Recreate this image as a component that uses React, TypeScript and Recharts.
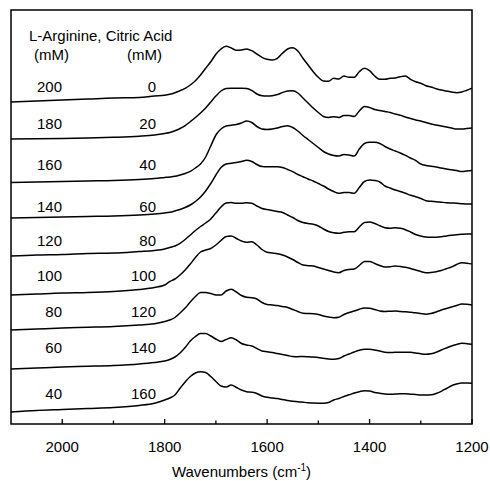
import React from 'react';
import { LineChart, Line, XAxis, YAxis, Label, ReferenceArea } from 'recharts';

const FONT = '"Liberation Sans", Arial, Helvetica, sans-serif';
const W = 490;
const H = 481;

// Wavenumbers (cm-1) at which the spectra were read
const wavenumbers = [
  2100, 2050, 2000, 1950, 1900, 1850, 1820,
  1800, 1790, 1780, 1770, 1760, 1750, 1740, 1730, 1720, 1710, 1700,
  1690, 1680, 1670, 1660, 1650, 1640, 1630, 1620, 1610, 1600,
  1590, 1580, 1570, 1560, 1550, 1540, 1530, 1520, 1510, 1500,
  1490, 1480, 1470, 1460, 1450, 1440, 1430, 1420, 1410, 1400,
  1390, 1380, 1370, 1360, 1350, 1340, 1330, 1320, 1310, 1300,
  1290, 1280, 1270, 1260, 1250, 1240, 1230, 1220, 1210, 1200,
];

// Offset absorbance (a.u.), top spectrum first
const argCit200_0 = [
  322, 323, 324, 325, 326, 326.5, 328,
  328.7, 329.7, 331.3, 333.3, 335.7, 339, 343.3, 349, 355.7, 362.3, 369.7,
  375, 377.7, 376, 373.7, 374, 375, 373.3, 370, 366.7, 364.7,
  364, 365.7, 370.7, 375, 376.3, 373, 365.7, 359, 352.3, 346.7,
  343, 342.7, 345.7, 345, 348, 346.7, 346.7, 352.3, 355.7, 353.3,
  348, 344.7, 344.7, 345.7, 346, 347.3, 348, 344.7, 342.3, 340.7,
  338.3, 337, 335.3, 334, 333, 332, 331.3, 332, 333.7, 335.7,
];
const argCit180_20 = [
  285, 285.2, 285.5, 286, 286.7, 287.8, 289,
  290.5, 291.5, 293.2, 295.5, 298.5, 302.3, 306.5, 311, 316, 322, 328,
  333, 335.5, 335.7, 335.7, 335.7, 335.5, 333.5, 330, 328.3, 328,
  328.3, 329.5, 331.5, 333, 333.3, 331, 326, 321, 316, 311.5,
  307.5, 306.5, 307.3, 306.5, 308.5, 308.5, 307.5, 313, 317.5, 316.5,
  314.5, 313.5, 312.5, 311.5, 310, 308.7, 307, 305.5, 304, 303,
  301.5, 300, 299, 298, 297, 296, 295, 295, 295.5, 296,
];
const argCit160_40 = [
  241.5, 242, 242.5, 243, 243.5, 244.5, 245.5,
  246.5, 247, 247.7, 249, 250.5, 252.7, 256, 260, 267, 278, 289,
  295, 298, 298.7, 299.5, 301, 303, 301.5, 297.5, 295, 294.5,
  295, 296, 297.5, 298.3, 296.5, 293, 288.5, 284.5, 280.5, 276.5,
  272.5, 270, 268.5, 268, 269.5, 269, 268, 275, 280.5, 281.7,
  281.7, 280.5, 277.5, 275, 273, 271, 268.7, 266, 263.5, 260,
  258.5, 257.7, 257, 256, 255, 254.3, 253.5, 252.5, 253, 253.5,
];
const argCit140_60 = [
  206, 206.5, 207, 207.5, 208, 209, 210,
  211, 211.7, 213, 214.5, 216.5, 219, 222.5, 227, 233, 240.5, 249,
  256.5, 260, 260.7, 261.5, 262.5, 263.7, 262.5, 259.5, 257.5, 257.3,
  257.3, 257.3, 256.5, 254.5, 252.3, 249.5, 247.3, 245, 243, 240.5,
  238, 235, 232.5, 230.7, 231.5, 231.5, 230.7, 236.5, 242.5, 244,
  243.5, 242, 238, 236, 234, 232.5, 230.7, 228.7, 227.3, 225.5,
  223.3, 222.7, 222.3, 221.8, 221.3, 221, 220.7, 220.3, 220, 220,
];
const argCit120_80 = [
  168, 169, 169.5, 170.5, 171, 172.5, 173.5,
  175, 176.5, 178, 180.7, 184.5, 189, 193.5, 197.5, 201, 205, 211,
  217, 221, 221.5, 220.7, 220.8, 221.2, 220.8, 218, 215.5, 214.5,
  213.5, 212.5, 211.5, 209, 206.5, 203.5, 201.5, 200.5, 199.7, 198,
  195, 192.5, 191.2, 190.7, 191.7, 192.3, 192.3, 197, 201.5, 202,
  200.5, 198.3, 196.2, 195.7, 196.2, 195.7, 194.3, 192, 189.5, 188,
  187, 186.7, 186.8, 187.2, 188, 188.7, 189.3, 189.7, 190, 190,
];
const argCit100_100 = [
  129, 130, 131, 131.5, 132.5, 134.5, 136.5,
  139, 142.5, 145, 149, 154, 160, 166.5, 172, 174, 175.5, 179,
  183.5, 187.5, 188, 185.5, 183, 181.7, 182.3, 179, 174.5, 171.7,
  171, 170.3, 169, 167, 164.5, 161.5, 159, 158.3, 158, 156.5,
  155, 153.5, 152, 151.3, 153.5, 154.5, 155, 158.5, 162.5, 162.5,
  160.5, 158.5, 157, 157.3, 158, 157.5, 156.7, 155.5, 154, 152.5,
  151.3, 151.5, 152.3, 153.5, 155.3, 157, 159.5, 161.3, 160.7, 160,
];
const argCit80_120 = [
  94, 95, 96, 96.7, 97.5, 99, 100.3,
  102.5, 104, 106.5, 111, 116, 122, 127.5, 131.5, 131.5, 130.5, 129,
  129, 133, 134.7, 132, 128.5, 126.7, 126.3, 125, 121.5, 119.5,
  119, 118.5, 117.5, 116.5, 114.5, 112.5, 110.7, 110.5, 110.2, 109.5,
  108, 107, 106.3, 106.8, 109.5, 111.5, 113, 114.8, 116, 115.7,
  114.5, 113, 112.5, 112.8, 113, 112.5, 112.2, 111.7, 111.3, 110.5,
  109.7, 110.5, 112, 114, 115.5, 117, 118.5, 120, 119.7, 119,
];
const argCit60_140 = [
  55, 56, 57, 57.7, 58.5, 60, 61.5,
  63, 64.5, 67, 71, 76.5, 83, 87.5, 90.5, 90.5, 88, 85,
  82.5, 84.5, 86.2, 84, 80.5, 79, 78, 75.5, 73, 72.3,
  71.5, 70.5, 69.5, 68.5, 67.5, 67.3, 67.5, 67.3, 67, 66.5,
  65.7, 65, 64.7, 65.5, 68, 70, 72, 73.7, 74.7, 74.7,
  74, 73, 71.7, 71.5, 71.7, 71.7, 71.7, 71.7, 71, 70.2,
  69.7, 70.2, 71.7, 74, 76, 78, 79.5, 80.7, 80.3, 79.7,
];
const argCit40_160 = [
  12, 13.5, 14.5, 15.5, 16.5, 18.5, 20.7,
  24, 26, 29, 35.7, 42, 47.5, 51, 52.3, 51.5, 47.5, 42.5,
  38, 37, 39, 36.5, 34, 32.3, 31.7, 30.5, 28, 26.7,
  26, 25.5, 24.5, 23.5, 22.7, 22.3, 21.8, 21.3, 21, 20.8,
  20.7, 21.5, 24, 25.5, 27.5, 29.2, 31, 32.3, 33.3, 33,
  31.5, 30.7, 30, 29.7, 30, 30.2, 30.2, 29.8, 29.5, 29,
  29, 29.2, 30.5, 32.7, 35.5, 38.3, 40, 41, 41, 40.7,
];

const arginine = [200, 180, 160, 140, 120, 100, 80, 60, 40];
const citricAcid = [0, 20, 40, 60, 80, 100, 120, 140, 160];

const xTicks = [2000, 1900, 1800, 1700, 1600, 1500, 1400, 1300, 1200];
const labelledTicks = [2000, 1800, 1600, 1400, 1200];
const xDomain = [2100, 1200];
const yDomain = [0, 414];

const spectra = [
  argCit200_0, argCit180_20, argCit160_40, argCit140_60, argCit120_80,
  argCit100_100, argCit80_120, argCit60_140, argCit40_160,
];

const data = wavenumbers.map((wn, i) => {
  const row: Record<string, number> = { wn };
  spectra.forEach((s, k) => {
    row['s' + k] = s[i];
  });
  return row;
});

// layout of the text annotations
const labelBaselines = [91.7, 129, 170, 211.5, 245.5, 280.5, 316.5, 352.5, 399];

function XTick(props: any) {
  const { x, y, payload } = props;
  const major = labelledTicks.includes(payload.value);
  return (
    <g>
      <line x1={x} x2={x} y1={y} y2={y - (major ? 5 : 3.5)} stroke="#000" strokeWidth={1.3} />
      {major && (
        <text x={x} y={y + 27.7} textAnchor="middle" fontFamily={FONT} fontSize={15} fill="#000">
          {payload.value}
        </text>
      )}
    </g>
  );
}

function AxisTitle(props: any) {
  const vb = props.viewBox || { x: 11, y: 424, width: 461 };
  return (
    <text x={vb.x + vb.width / 2} y={vb.y + 53} textAnchor="middle" fontFamily={FONT} fontSize={15} fill="#000">
      Wavenumbers (cm
      <tspan dy={-6} fontSize={10}>-1</tspan>
      <tspan dy={6}>)</tspan>
    </text>
  );
}

export default function App() {
  return (
    <div style={{ position: 'absolute', left: 0, top: 0, width: W, height: H, background: '#fff' }}>
      <LineChart width={W} height={H} data={data} margin={{ top: 10, right: 18, bottom: 0, left: 11 }}>
        <XAxis
          dataKey="wn"
          type="number"
          domain={[1200, 2100]}
          reversed
          allowDataOverflow
          ticks={xTicks}
          interval={0}
          tickLine={false}
          tickSize={0}
          tickMargin={0}
          tick={<XTick />}
          height={57}
          axisLine={false}
        >
          <Label content={<AxisTitle />} />
        </XAxis>
        <YAxis type="number" domain={yDomain} allowDataOverflow hide width={0} />
        <ReferenceArea
          x1={xDomain[0]}
          x2={xDomain[1]}
          y1={yDomain[0]}
          y2={yDomain[1]}
          fill="none"
          fillOpacity={0}
          stroke="#000"
          strokeWidth={1.5}
          ifOverflow="visible"
        />
        {spectra.map((_, k) => (
          <Line
            key={k}
            type="monotone"
            dataKey={'s' + k}
            stroke="#000"
            strokeWidth={1.5}
            dot={false}
            activeDot={false}
            isAnimationActive={false}
          />
        ))}
      </LineChart>
      <svg
        width={W}
        height={H}
        style={{ position: 'absolute', left: 0, top: 0, pointerEvents: 'none' }}
        fontFamily={FONT}
        fontSize={15}
        fill="#000"
      >
        <text x={29} y={40.5}>L-Arginine, Citric Acid</text>
        <text x={34} y={59.5}>(mM)</text>
        <text x={127} y={59.5}>(mM)</text>
        {arginine.map((a, i) => (
          <text key={'a' + i} x={62} y={labelBaselines[i]} textAnchor="end">{a}</text>
        ))}
        {citricAcid.map((c, i) => (
          <text key={'c' + i} x={156} y={labelBaselines[i]} textAnchor="end">{c}</text>
        ))}
      </svg>
    </div>
  );
}
